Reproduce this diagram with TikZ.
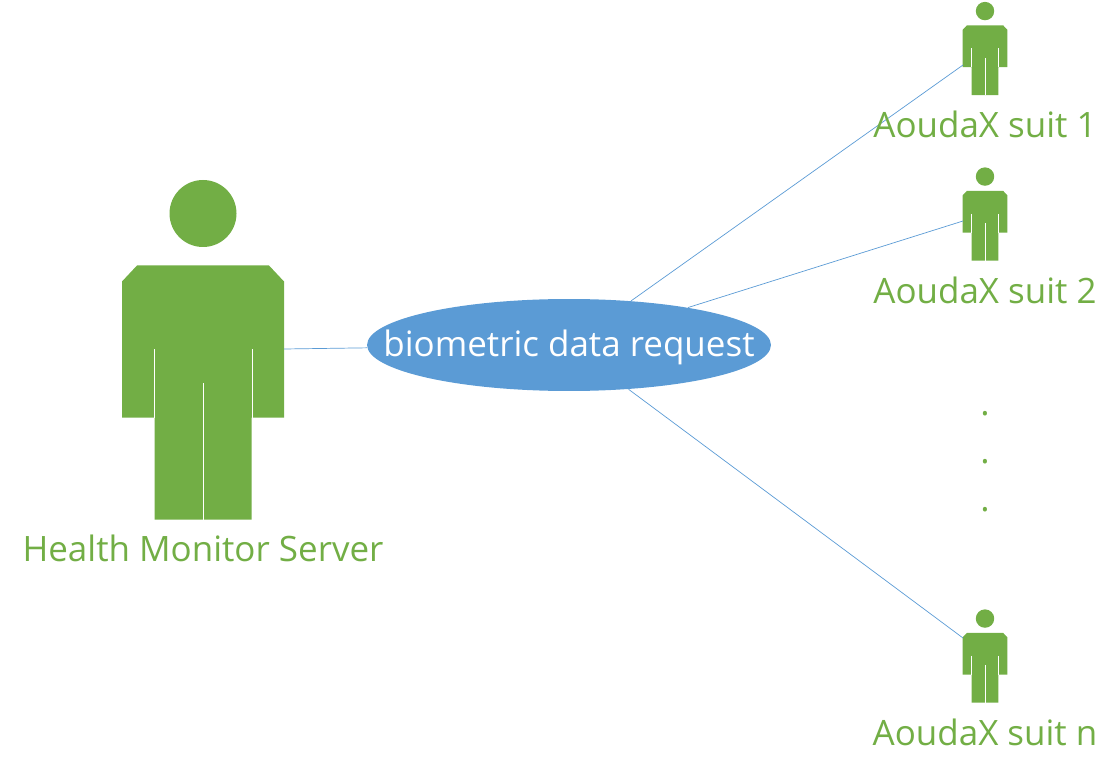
\documentclass[tikz,border=0pt]{standalone}
\usepackage{fontspec}
\usetikzlibrary{shapes.geometric}
\setmainfont{Open Sans}
\definecolor{suitgreen}{HTML}{72AE45}
\definecolor{reqblue}{HTML}{5B9BD5}
\tikzset{
    person/.pic={
        \fill[suitgreen] (0, 33) circle (33.5);
        \fill[suitgreen] (-66, 85) -- (66, 85) -- (81, 101) -- (81, 237) -- (48.5, 237) -- (48.5, 339)
            -- (-48.5, 339) -- (-48.5, 237) -- (-81, 237) -- (-81, 101) -- cycle;
        \draw[white, line width=0.5pt] (-49, 169) -- (-49, 237);
        \draw[white, line width=0.5pt] (49, 169) -- (49, 237);
        \draw[white, line width=0.5pt] (0, 203) -- (0, 339);
    },
    suitname/.style={text=suitgreen, font=\fontsize{19.9pt}{24pt}\selectfont, inner sep=0pt},
    reqname/.style={text=white, font=\fontsize{19.9pt}{24pt}\selectfont, inner sep=0pt},
    link/.style={color=reqblue, line width=0.4pt},
}
\begin{document}
\begin{tikzpicture}[x=0.02cm, y=-0.02cm]
    \useasboundingbox (0, 0) rectangle (1118, 776);
    \pic at (203, 180.5) {person};
    \pic[scale=0.275] at (985, 2) {person};
    \pic[scale=0.275] at (985, 167.5) {person};
    \pic[scale=0.275] at (985, 609.5) {person};
    \coordinate (server) at (284, 349);
    \coordinate (suit1) at (963, 65);
    \coordinate (suit2) at (963, 221);
    \coordinate (suitn) at (963, 638);
    \node[ellipse, fill=reqblue, minimum width=8.08cm, minimum height=1.84cm, inner sep=0pt] (req) at (569, 345) {};
    \node[reqname] (reqtext) at (569, 347) {biometric data request};
    \draw[link] (server) -- (req);
    \draw[link] (req) -- (suit1);
    \draw[link] (req) -- (suit2);
    \draw[link] (req) -- (suitn);
    \node[suitname] (servername) at (203, 548) {Health Monitor Server};
    \node[suitname] (name1) at (985, 124.5) {AoudaX suit 1};
    \node[suitname] (name2) at (985, 290.5) {AoudaX suit 2};
    \node[suitname] (namen) at (985, 732.5) {AoudaX suit n};
    \node[suitname] (dot1) at (985, 414) {.};
    \node[suitname] (dot2) at (985, 462) {.};
    \node[suitname] (dot3) at (985, 510) {.};
\end{tikzpicture}
\end{document}
